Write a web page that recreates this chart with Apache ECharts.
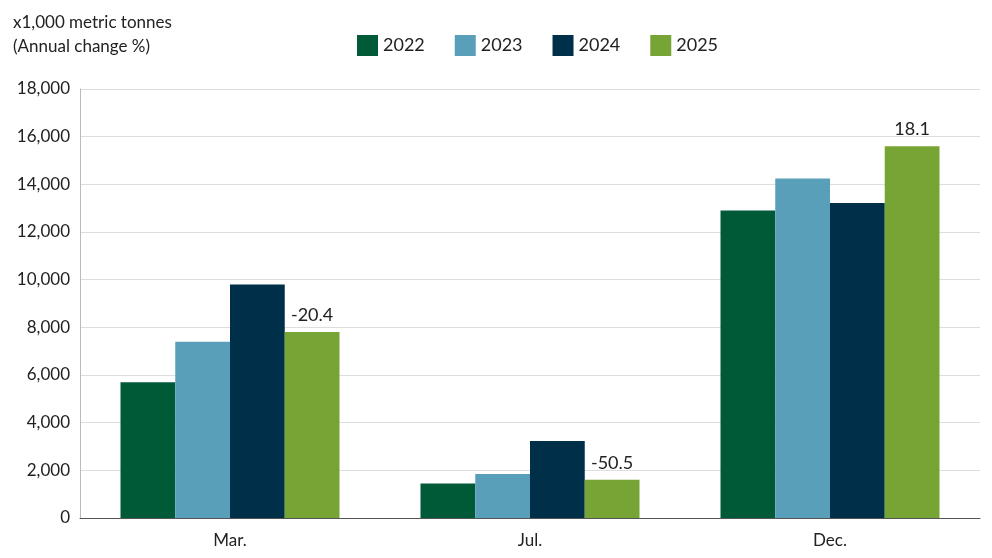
<!DOCTYPE html>
<html>
<head>
<meta charset="utf-8">
<script src="https://cdn.jsdelivr.net/npm/echarts@6/dist/echarts.min.js"></script>
<style>html,body{margin:0;padding:0;background:#fff}#chart{width:992px;height:558px}</style>
</head>
<body>
<div id="chart"></div>
<script>
var categories = ['Mar.', 'Jul.', 'Dec.'];
var years = ['2022', '2023', '2024', '2025'];
var values2022 = [5700, 1450, 12900];
var values2023 = [7400, 1850, 14250];
var values2024 = [9800, 3230, 13220];
var values2025 = [7800, 1600, 15600];
var changes2025 = ['-20.4', '-50.5', '18.1'];
var colors = ['#005a38', '#5a9fba', '#003049', '#76a536'];

var font = 'Lato, "Noto Sans", sans-serif';
var allValues = [values2022, values2023, values2024, values2025];

var series = years.map(function (y, i) {
    var s = {
        name: y,
        type: 'bar',
        data: allValues[i],
        barGap: 0,
        barCategoryGap: '27%',
        itemStyle: { color: colors[i] }
    };
    if (i === 3) {
        s.label = {
            show: true,
            position: 'top',
            distance: 8,
            color: '#222',
            fontSize: 18,
            fontFamily: font,
            formatter: function (p) { return changes2025[p.dataIndex]; }
        };
    }
    return s;
});

var myChart = echarts.init(document.getElementById('chart'), null, { renderer: 'canvas' });
myChart.setOption({
    animation: false,
    textStyle: { fontFamily: font },
    title: {
        text: 'x1,000 metric tonnes\n(Annual change %)',
        left: 8, top: 6,
        textStyle: { fontSize: 17, fontWeight: 'normal', color: '#222', lineHeight: 24, fontFamily: font }
    },
    legend: {
        data: years,
        left: 352, top: 30,
        itemWidth: 21, itemHeight: 21, itemGap: 30,
        icon: 'rect',
        textStyle: { fontSize: 18, color: '#222', fontFamily: font }
    },
    grid: { left: 80, right: 12, top: 89, bottom: 40, containLabel: false },
    xAxis: {
        type: 'category',
        data: categories,
        axisTick: { show: false },
        axisLine: { lineStyle: { color: '#555' } },
        axisLabel: { fontSize: 17, color: '#222', margin: 14, fontFamily: font }
    },
    yAxis: {
        type: 'value',
        min: 0, max: 18000, interval: 2000,
        axisLine: { show: true, lineStyle: { color: '#bbb' } },
        splitLine: { lineStyle: { color: '#ddd' } },
        axisLabel: {
            fontSize: 17, color: '#222', margin: 10, fontFamily: font,
            formatter: function (v) { return v.toLocaleString('en-US'); }
        }
    },
    series: series
});
window.addEventListener('resize', myChart.resize);
</script>
</body>
</html>
